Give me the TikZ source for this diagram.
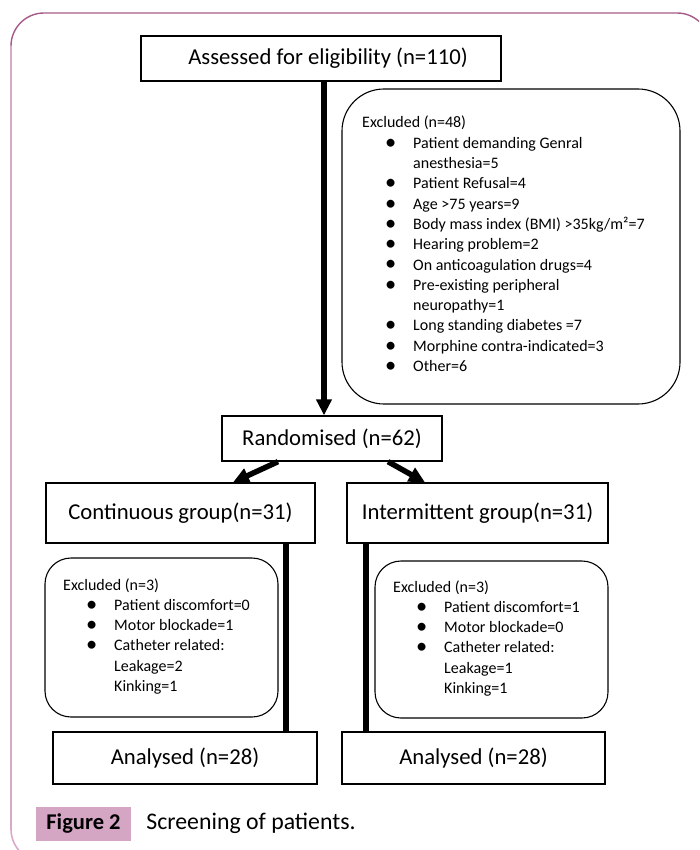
\documentclass[tikz,border=0pt]{standalone}
\usepackage{fontspec}
\setmainfont{Carlito}
\usetikzlibrary{arrows.meta}
\definecolor{framedark}{HTML}{A55A88}
\definecolor{framelight}{HTML}{D8AACA}
\definecolor{capfill}{HTML}{D4A6C4}
\newcommand\bdot{\raisebox{-0.9pt}{\scalebox{1.4}{\textbullet}}}
\newcommand\bitm[1]{\makebox[51pt][l]{\hspace{23pt}\bdot}#1}
\newcommand\bcnt[1]{\hspace*{51pt}#1}
\begin{document}
\begin{tikzpicture}[x=1pt,y=-1pt,
  mainbox/.style={draw, line width=1.3pt, inner sep=0pt, font=\fontsize{22.7}{27}\selectfont},
  exbox/.style={draw, line width=1.1pt, inner sep=0pt, rounded corners=#1},
  bigarrow/.style={line width=5.5pt, -{Triangle[length=16pt,width=15pt]}},
  biglink/.style={line width=6pt},
  extext/.style={inner sep=0pt, anchor=base west, font=\fontsize{16}{20.3}\selectfont}
]
\useasboundingbox (0,0) rectangle (699,850);
\clip (0,0) rectangle (699,850);
% frame
\draw[framedark, line width=1.4pt, rounded corners=33pt] (710,80) -- (710,13) -- (11,13) -- (11,46);
\draw[framelight, line width=1.6pt, rounded corners=33pt] (11,46) -- (11,862) -- (720,862);

% main boxes
\node[mainbox, minimum width=360pt, minimum height=45pt] (assess) at (321,58.5) {\hspace*{14pt}Assessed for eligibility (n=110)};
\node[mainbox, minimum width=220pt, minimum height=45pt] (rand) at (332,438.5) {Randomised (n=62)};
\node[mainbox, minimum width=269pt, minimum height=60pt] (cont) at (180.5,513) {Continuous group(n=31)};
\node[mainbox, minimum width=261pt, minimum height=60pt] (inter) at (477.5,513) {Intermittent group(n=31)};
\node[mainbox, minimum width=264pt, minimum height=52pt] (analL) at (185,758) {Analysed (n=28)};
\node[mainbox, minimum width=263pt, minimum height=52pt] (analR) at (473.5,758) {Analysed (n=28)};

% exclusion boxes
\node[exbox=42pt, minimum width=338pt, minimum height=315pt] (ex1) at (511,246.5) {};
\node[extext] (ex1t) at (362,128) {\begin{tabular}[t]{@{}l@{}}
Excluded (n=48)\\
\bitm{Patient demanding Genral}\\
\bcnt{anesthesia=5}\\
\bitm{Patient Refusal=4}\\
\bitm{Age >75 years=9}\\
\bitm{Body mass index (BMI) >35kg/m²=7}\\
\bitm{Hearing problem=2}\\
\bitm{On anticoagulation drugs=4}\\
\bitm{Pre-existing peripheral}\\
\bcnt{neuropathy=1}\\
\bitm{Long standing diabetes =7}\\
\bitm{Morphine contra-indicated=3}\\
\bitm{Other=6}
\end{tabular}};

\node[exbox=26pt, minimum width=233pt, minimum height=159pt] (ex2) at (161.5,637.5) {};
\node[extext] (ex2t) at (63,590) {\begin{tabular}[t]{@{}l@{}}
Excluded (n=3)\\
\bitm{Patient discomfort=0}\\
\bitm{Motor blockade=1}\\
\bitm{Catheter related:}\\
\bcnt{Leakage=2}\\
\bcnt{Kinking=1}
\end{tabular}};

\node[exbox=26pt, minimum width=233pt, minimum height=157pt] (ex3) at (491.5,639.5) {};
\node[extext] (ex3t) at (393,592) {\begin{tabular}[t]{@{}l@{}}
Excluded (n=3)\\
\bitm{Patient discomfort=1}\\
\bitm{Motor blockade=0}\\
\bitm{Catheter related:}\\
\bcnt{Leakage=1}\\
\bcnt{Kinking=1}
\end{tabular}};

% connectors
\draw[bigarrow] ([xshift=3pt]assess.south) -- ([xshift=-8pt]rand.north);
\draw[bigarrow] ([xshift=-54pt]rand.south) -- ([xshift=52.5pt]cont.north);
\draw[bigarrow] ([xshift=56pt]rand.south) -- ([xshift=-52.5pt]inter.north);
\draw[biglink] ([xshift=-30pt]cont.south east) -- ([xshift=-32pt]analL.north east);
\draw[biglink] ([xshift=20pt]inter.south west) -- ([xshift=25pt]analR.north west);

% caption
\node[fill=capfill, minimum width=95pt, minimum height=34pt, inner sep=0pt, font=\fontsize{22.5}{27}\selectfont\bfseries] (figlab) at (83.5,824) {Figure 2};
\node[anchor=base west, inner sep=0pt, font=\fontsize{23.8}{28}\selectfont] (capt) at ([xshift=15pt]figlab.base east) {Screening of patients.};
\end{tikzpicture}
\end{document}
